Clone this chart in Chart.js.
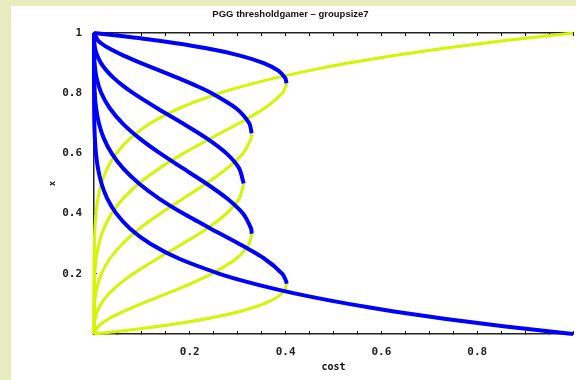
<!DOCTYPE html>
<html>
<head>
<meta charset="utf-8">
<script src="https://cdn.jsdelivr.net/npm/chart.js@4/dist/chart.umd.min.js"></script>
<style>
  html, body { margin: 0; padding: 0; overflow: hidden; background: #e8edc0; }
  canvas { display: block; }
</style>
</head>
<body>
<canvas id="chart" width="588" height="380" style="width:588px;height:380px"></canvas>
<script>
// Equilibrium fraction of cooperators x against cost, group size 7,
// one curve per threshold M = 1..7. Each point is [cost, x].
// Lower branch (below the fold) is unstable, upper branch is stable.

const stableM1 = [[1, 0], [0.8591, 0.025], [0.7351, 0.05], [0.6264, 0.075], [0.5314, 0.1], [0.4488, 0.125],
  [0.3771, 0.15], [0.3153, 0.175], [0.2621, 0.2], [0.178, 0.25], [0.1176, 0.3], [0.0754, 0.35], [0.0467, 0.4],
  [0.0277, 0.45], [0.0156, 0.5], [0.0083, 0.55], [0.0041, 0.6], [0.0018, 0.65], [0.0007, 0.7], [0.0001, 0.8], [0, 1]];

const unstableM2 = [[0, 0], [0.0571, 0.01], [0.1322, 0.025], [0.2321, 0.05], [0.3047, 0.075], [0.3543, 0.1],
  [0.3847, 0.125], [0.3993, 0.15], [0.4019, 0.1667]];
const stableM2 = [[0.4019, 0.1667], [0.4013, 0.175], [0.3932, 0.2], [0.356, 0.25], [0.3025, 0.3], [0.2437, 0.35],
  [0.1866, 0.4], [0.1359, 0.45], [0.0938, 0.5], [0.0609, 0.55], [0.0369, 0.6], [0.0205, 0.65], [0.0102, 0.7],
  [0.0044, 0.75], [0.0015, 0.8], [0.0004, 0.85], [0.0001, 0.9], [0, 1]];

const unstableM3 = [[0, 0], [0.0085, 0.025], [0.0305, 0.05], [0.0618, 0.075], [0.0984, 0.1], [0.1374, 0.125],
  [0.1762, 0.15], [0.2128, 0.175], [0.2458, 0.2], [0.2966, 0.25], [0.3241, 0.3], [0.3292, 0.3333]];
const stableM3 = [[0.3292, 0.3333], [0.328, 0.35], [0.311, 0.4], [0.278, 0.45], [0.2344, 0.5], [0.1861, 0.55],
  [0.1382, 0.6], [0.0951, 0.65], [0.0595, 0.7], [0.033, 0.75], [0.0154, 0.8], [0.0055, 0.85], [0.0012, 0.9],
  [0.0001, 0.95], [0, 1]];

const unstableM4 = [[0, 0], [0.0003, 0.025], [0.0021, 0.05], [0.0067, 0.075], [0.0146, 0.1], [0.0262, 0.125],
  [0.0415, 0.15], [0.0602, 0.175], [0.0819, 0.2], [0.1318, 0.25], [0.1852, 0.3], [0.2355, 0.35], [0.2765, 0.4],
  [0.3032, 0.45], [0.3125, 0.5]];
const stableM4 = [[0.3125, 0.5], [0.3032, 0.55], [0.2765, 0.6], [0.2355, 0.65], [0.1852, 0.7], [0.1318, 0.75],
  [0.0819, 0.8], [0.0602, 0.825], [0.0415, 0.85], [0.0262, 0.875], [0.0146, 0.9], [0.0067, 0.925], [0.0021, 0.95],
  [0.0003, 0.975], [0, 1]];

const unstableM5 = [[0, 0], [0.0001, 0.05], [0.0012, 0.1], [0.0055, 0.15], [0.0154, 0.2], [0.033, 0.25],
  [0.0595, 0.3], [0.0951, 0.35], [0.1382, 0.4], [0.1861, 0.45], [0.2344, 0.5], [0.278, 0.55], [0.311, 0.6],
  [0.328, 0.65], [0.3292, 0.6667]];
const stableM5 = [[0.3292, 0.6667], [0.3241, 0.7], [0.2966, 0.75], [0.2458, 0.8], [0.2128, 0.825], [0.1762, 0.85],
  [0.1374, 0.875], [0.0984, 0.9], [0.0618, 0.925], [0.0305, 0.95], [0.0085, 0.975], [0, 1]];

const unstableM6 = [[0, 0], [0.0001, 0.1], [0.0004, 0.15], [0.0015, 0.2], [0.0044, 0.25], [0.0102, 0.3],
  [0.0205, 0.35], [0.0369, 0.4], [0.0609, 0.45], [0.0938, 0.5], [0.1359, 0.55], [0.1866, 0.6], [0.2437, 0.65],
  [0.3025, 0.7], [0.356, 0.75], [0.3932, 0.8], [0.4013, 0.825], [0.4019, 0.8333]];
const stableM6 = [[0.4019, 0.8333], [0.3993, 0.85], [0.3847, 0.875], [0.3543, 0.9], [0.3047, 0.925],
  [0.2321, 0.95], [0.1322, 0.975], [0.0571, 0.99], [0, 1]];

const unstableM7 = [[0, 0], [0.0001, 0.2], [0.0007, 0.3], [0.0018, 0.35], [0.0041, 0.4], [0.0083, 0.45],
  [0.0156, 0.5], [0.0277, 0.55], [0.0467, 0.6], [0.0754, 0.65], [0.1176, 0.7], [0.178, 0.75], [0.2621, 0.8],
  [0.3153, 0.825], [0.3771, 0.85], [0.4488, 0.875], [0.5314, 0.9], [0.6264, 0.925], [0.7351, 0.95],
  [0.8591, 0.975], [1, 1]];

const stableCurves = [stableM1, stableM2, stableM3, stableM4, stableM5, stableM6];
const unstableCurves = [unstableM2, unstableM3, unstableM4, unstableM5, unstableM6, unstableM7];

const xTickLabels = ['0.2', '0.4', '0.6', '0.8'];
const yTickLabels = ['0.2', '0.4', '0.6', '0.8', '1'];

const STABLE_COLOR = '#0000ff';
const UNSTABLE_COLOR = '#d2f500';

function lineDataset(points, color, width) {
  return {
    data: points.map(([cost, x]) => ({ x: cost, y: x })),
    showLine: true,
    borderColor: color,
    backgroundColor: color,
    borderWidth: width,
    pointRadius: 0,
    pointHoverRadius: 0,
    tension: 0.25,
    fill: false,
    clip: 4
  };
}

// stable branches first so they are painted over the unstable ones
const datasets = [
  ...stableCurves.map(p => lineDataset(p, STABLE_COLOR, 4)),
  ...unstableCurves.map(p => lineDataset(p, UNSTABLE_COLOR, 3))
];

function formatTick(v) {
  return Number(v.toFixed(2)).toString();
}

const panelBackground = {
  id: 'panelBackground',
  beforeDraw(chart) {
    const { ctx, width, height } = chart;
    ctx.save();
    ctx.fillStyle = '#e8edc0';
    ctx.fillRect(0, 0, width, height);
    ctx.fillStyle = '#ffffff';
    ctx.fillRect(11, 6, width - 11, height - 6);
    ctx.restore();
  }
};

const tickFont = { family: 'DejaVu Sans Mono', size: 11, weight: 'bold' };
const frameGrid = { drawOnChartArea: false, color: '#000', tickColor: '#000', tickLength: -3, lineWidth: 1 };
const frameBorder = { display: true, color: '#222', width: 1.5 };

new Chart(document.getElementById('chart'), {
  type: 'scatter',
  data: { datasets },
  options: {
    responsive: false,
    animation: false,
    devicePixelRatio: 1,
    events: [],
    layout: { padding: { left: 0, right: 7, top: 0, bottom: 0 } },
    plugins: {
      legend: { display: false },
      tooltip: { enabled: false },
      title: {
        display: true,
        text: 'PGG thresholdgamer – groupsize7',
        color: '#111',
        font: { family: 'Liberation Sans', size: 9.5, weight: 'bold' },
        padding: { top: 9, bottom: 2 }
      }
    },
    scales: {
      x: {
        type: 'linear',
        position: 'bottom',
        min: 0,
        max: 1,
        afterFit(scale) { scale.height = 46; },
        grid: frameGrid,
        border: frameBorder,
        ticks: {
          stepSize: 0.05,
          autoSkip: false,
          maxRotation: 0,
          padding: 15,
          color: '#222',
          font: tickFont,
          callback: v => (xTickLabels.includes(formatTick(v)) ? formatTick(v) : '')
        },
        title: {
          display: true,
          text: 'cost',
          color: '#111',
          font: { family: 'DejaVu Sans Mono', size: 10, weight: 'bold' },
          padding: { top: 0, bottom: 7 }
        }
      },
      x2: {
        type: 'linear',
        position: 'top',
        min: 0,
        max: 1,
        afterFit(scale) { scale.height = 33 - 22.4; },
        grid: frameGrid,
        border: frameBorder,
        ticks: { stepSize: 0.05, autoSkip: false, display: false }
      },
      y: {
        type: 'linear',
        position: 'left',
        min: 0,
        max: 1,
        afterFit(scale) { scale.width = 94; },
        grid: frameGrid,
        border: frameBorder,
        ticks: {
          stepSize: 0.2,
          autoSkip: false,
          padding: 15,
          color: '#222',
          font: tickFont,
          callback: v => (yTickLabels.includes(formatTick(v)) ? formatTick(v) : '')
        },
        title: {
          display: true,
          text: 'x',
          color: '#111',
          font: { family: 'DejaVu Sans Mono', size: 9, weight: 'bold' },
          padding: { top: 47, bottom: 0 }
        }
      }
    }
  },
  plugins: [panelBackground]
});
</script>
</body>
</html>
